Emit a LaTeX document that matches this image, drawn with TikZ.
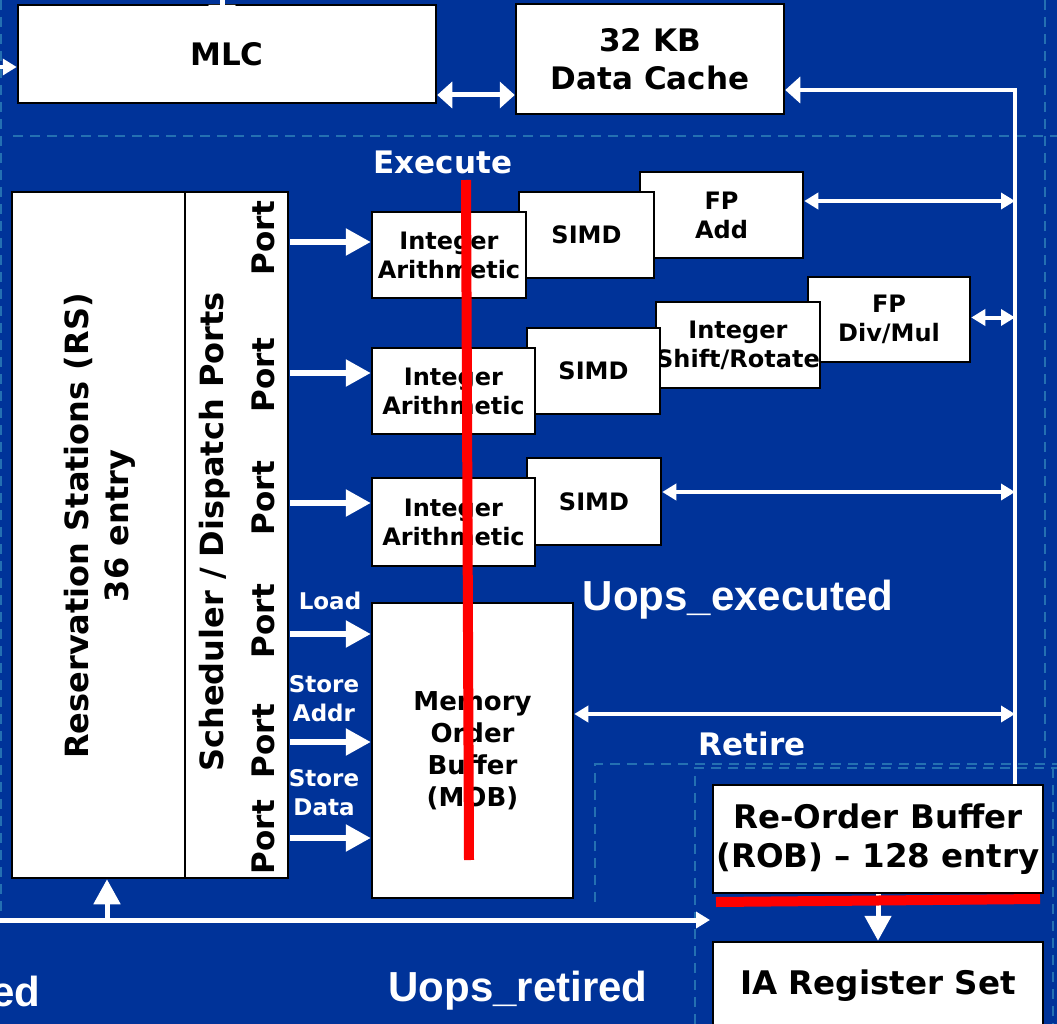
\documentclass[tikz,border=0pt]{standalone}
\usepackage{fontspec}
\setmainfont{DejaVu Sans}
\newfontfamily\arialfont{Liberation Sans}
\usetikzlibrary{arrows.meta}
\definecolor{SlideBlue}{HTML}{003399}
\definecolor{DashBlue}{HTML}{2470B2}
\definecolor{MarkRed}{HTML}{FF0000}
\newcommand{\bfsz}[2]{\fontsize{#1}{#2}\selectfont\bfseries}

\begin{document}
\begin{tikzpicture}[
  x=1pt, y=-1pt,
  bigtip/.tip={Triangle[length=25pt,width=26pt]},
  widetip/.tip={Triangle[length=15pt,width=26pt]},
  smalltip/.tip={Triangle[length=14pt,width=16pt]},
  unitbox/.style={rectangle, draw=black, fill=white, line width=2.5pt,
                  align=center, inner sep=0pt, font=\bfsz{24}{29}},
  cachebox/.style={unitbox, font=\bfsz{31}{38}},
  robbox/.style={unitbox, font=\bfsz{32.5}{39}},
  membox/.style={unitbox, font=\bfsz{26}{32}},
  vtext/.style={rotate=90, align=center, font=\bfsz{32}{40}},
  porttxt/.style={rotate=90, font=\bfsz{31}{38}},
  wlabel/.style={text=white, font=\bfsz{31}{38}},
  slabel/.style={text=white, align=center, font=\bfsz{23}{29}},
  uops/.style={text=white, font=\arialfont\bfsz{42}{48}},
  wire/.style={draw=white, line width=4pt},
  portarrow/.style={draw=white, line width=5.5pt, -{bigtip}},
  fatarrow/.style={draw=white, line width=5pt, -{bigtip}},
  bothway/.style={wire, {smalltip}-{smalltip}},
  dashline/.style={draw=DashBlue, line width=2pt, dash pattern=on 10pt off 7pt},
  redmark/.style={draw=MarkRed, line width=10pt},
]
\useasboundingbox (0,0) rectangle (1057,1024);
\clip (0,0) rectangle (1057,1024);
\fill[SlideBlue] (0,0) rectangle (1057,1024);

\draw[dashline] (1,0) -- (1,915);
\draw[dashline] (13,136) -- (1057,136);
\draw[dashline] (1045,0) -- (1045,764);
\draw[dashline] (595,902) -- (595,764) -- (1057,764);
\draw[dashline] (695,1024) -- (695,768) -- (1057,768);
\draw[dashline] (1053,768) -- (1053,1024);

\node[cachebox, minimum width=418pt, minimum height=98pt] (mlc) at (227,54) {MLC};
\node[cachebox, minimum width=268pt, minimum height=110pt] (dcache) at (650,59) {32 KB\\Data Cache};

\node[unitbox, minimum width=173pt, minimum height=686pt] (rs) at (98.5,535) {};
\node[unitbox, minimum width=103pt, minimum height=686pt] (sched) at (236.5,535) {};
\node[vtext] (rstxt) at (100,526) {Reservation Stations (RS)\\36 entry};
\node[vtext] (schedtxt) at (215,532) {Scheduler / Dispatch Ports};
\foreach \y [count=\i] in {238,375,498,621,741,837} {
  \node[porttxt] (portlbl\i) at (263,\y) {Port};
}

\node[unitbox, minimum width=163pt, minimum height=86pt] (fpadd) at (721.5,215) {FP\\Add};
\node[unitbox, minimum width=135pt, minimum height=86pt] (simd1) at (586.5,235) {SIMD};
\node[unitbox, minimum width=154pt, minimum height=86pt] (ia1) at (449,255) {Integer\\Arithmetic};

\node[unitbox, minimum width=162pt, minimum height=85pt] (fpdiv) at (889,319.5) {FP\\Div/Mul};
\node[unitbox, minimum width=164pt, minimum height=86pt] (shift) at (738,345) {Integer\\\makebox[0pt]{Shift/Rotate}};
\node[unitbox, minimum width=133pt, minimum height=86pt] (simd2) at (593.5,371) {SIMD};
\node[unitbox, minimum width=163pt, minimum height=86pt] (ia2) at (453.5,391) {Integer\\Arithmetic};

\node[unitbox, minimum width=134pt, minimum height=87pt] (simd3) at (594,501.5) {SIMD};
\node[unitbox, minimum width=163pt, minimum height=88pt] (ia3) at (453.5,522) {Integer\\Arithmetic};

\node[membox, minimum width=201pt, minimum height=295pt] (mob) at (472.5,750.5) {Memory\\Order\\Buffer\\(MOB)};

\node[robbox, minimum width=330pt, minimum height=108pt] (rob) at (878,839) {Re-Order Buffer\\\makebox[0pt]{(ROB) – 128 entry}};
\node[robbox, minimum width=330pt, minimum height=88pt] (iareg) at (878,986) {IA Register Set};

\node[wlabel] (exe) at (443,162) {Execute};
\node[wlabel] (ret) at (752,744) {Retire};
\node[uops] (uexe) at (738,600) {Uops\_executed};
\node[uops] (uret) at (518,991) {Uops\_retired};
\node[uops, anchor=east] (ued) at (44,991) {ed};
\node[slabel] (ld) at (330,601) {Load};
\node[slabel] (sa) at (324,699) {Store\\Addr};
\node[slabel] (sd) at (324,793) {Store\\Data};

\coordinate (busTop) at (1015,90);
\coordinate (l2feed) at (0,67);
\coordinate (topfeed) at (222,-30);
\coordinate (topin) at (222,30);
\coordinate (retL) at (0,920);
\coordinate (retR) at (710,920);
\coordinate (rsfeed) at (107,920);

\draw[fatarrow] (topfeed) -- (topin);
\draw[wire, -{smalltip}] (l2feed) -- (l2feed -| mlc.west);
\draw[wire, line width=5pt, {widetip}-{widetip}] ([yshift=-41pt]mlc.east) -- ([yshift=-41pt]mlc.east -| dcache.west);
\draw[wire, -{widetip}] (rob.north -| busTop) |- (dcache.east |- busTop);

\draw[bothway] ([yshift=14pt]fpadd.east) -- ([yshift=14pt]fpadd.east -| busTop);
\draw[bothway] ([yshift=2pt]fpdiv.east) -- ([yshift=2pt]fpdiv.east -| busTop);
\draw[bothway] ([yshift=9.5pt]simd3.east) -- ([yshift=9.5pt]simd3.east -| busTop);
\draw[bothway] ([yshift=36.5pt]mob.east) -- ([yshift=36.5pt]mob.east -| busTop);

\foreach \y/\dst [count=\i] in {242/ia1,373/ia2,503/ia3,634/mob,742/mob,838/mob} {
  \coordinate (port\i) at (290,\y);
  \draw[portarrow] (port\i) -- (port\i -| \dst.west);
}

\draw[wire, line width=5pt, -{smalltip}] (retL) -- (retR);
\draw[fatarrow] (rsfeed) -- (rsfeed |- rs.south);
\draw[fatarrow] (rob.south) -- (iareg.north);

\coordinate (redA) at (466,180);
\coordinate (redB) at (469,860);
\coordinate (redC) at (716,902);
\coordinate (redD) at (1040,899);
\draw[redmark] (redA) -- (redB);
\draw[redmark] (redC) -- (redD);
\end{tikzpicture}
\end{document}
